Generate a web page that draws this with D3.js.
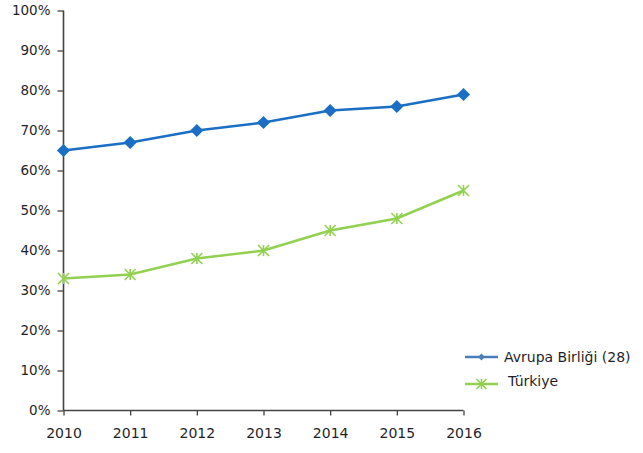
<!DOCTYPE html>
<html><head><meta charset="utf-8">
<script src="https://cdn.jsdelivr.net/npm/d3@7"></script>
<style>body{margin:0;background:#fff}svg{display:block}</style>
</head><body>
<svg id="c" width="643" height="453"></svg>
<script>
const years = ["2010","2011","2012","2013","2014","2015","2016"];
const euValues = [65, 67, 70, 72, 75, 76, 79];
const trValues = [33, 34, 38, 40, 45, 48, 55];
const yTicks = [0,10,20,30,40,50,60,70,80,90,100];
const seriesNames = ["Avrupa Birliği (28)", "Türkiye"];

const svg = d3.select("#c");
const font = "'DejaVu Sans', sans-serif";
const txt = "#1f1f2a";
const x = d3.scalePoint().domain(years).range([63.5, 463.5]);
const y = d3.scaleLinear().domain([0,100]).range([410.5, 10.5]);

// Y axis
const ya = svg.append("g").attr("transform","translate(63.5,0)")
  .call(d3.axisLeft(y).tickValues(yTicks).tickSize(6).tickPadding(7).tickFormat(d=>d+"%"));
ya.select(".domain").attr("stroke","#444").attr("stroke-width",1.6).attr("d","M0,10.5V410.5");
ya.selectAll(".tick line").attr("stroke","#444").attr("stroke-width",1.3);
ya.selectAll("text").attr("font-family",font).attr("font-size",13.5).attr("fill",txt);

// X axis
const xa = svg.append("g").attr("transform","translate(0,410.5)")
  .call(d3.axisBottom(x).tickSize(5).tickPadding(13));
xa.select(".domain").attr("stroke","#444").attr("stroke-width",1.6).attr("d","M63.5,0H463.5");
xa.selectAll(".tick line").attr("stroke","#444").attr("stroke-width",1.3);
xa.selectAll("text").attr("font-family",font).attr("font-size",14).attr("fill",txt).attr("font-weight",500);

const line = d3.line().x((d,i)=>x(years[i])).y(d=>y(d));
const blue = "#1a6ec4", green = "#92d050";

svg.append("path").datum(trValues).attr("d",line).attr("fill","none").attr("stroke",green).attr("stroke-width",2.5);
svg.append("path").datum(euValues).attr("d",line).attr("fill","none").attr("stroke",blue).attr("stroke-width",2.5);

function star(g, cx, cy, s){
  g.append("path").attr("d",`M${cx-s},${cy-s}L${cx+s},${cy+s}M${cx-s},${cy+s}L${cx+s},${cy-s}M${cx},${cy-s}L${cx},${cy+s}`)
    .attr("stroke",green).attr("stroke-width",1.6).attr("fill","none");
}
const sg = svg.append("g");
trValues.forEach((v,i)=>star(sg, x(years[i]), y(v), 5.5));

const diamond = d3.symbol().type(d3.symbolDiamond2).size(110);
svg.append("g").selectAll("path").data(euValues).join("path")
  .attr("transform",(d,i)=>`translate(${x(years[i])},${y(d)})`)
  .attr("d",diamond).attr("fill",blue);

// Legend
const lg = svg.append("g");
lg.append("line").attr("x1",465).attr("x2",498).attr("y1",357).attr("y2",357).attr("stroke","#4a7ebb").attr("stroke-width",2.5);
lg.append("path").attr("transform","translate(481.5,357)").attr("d",d3.symbol().type(d3.symbolDiamond2).size(30)).attr("fill","#4a7ebb");
lg.append("text").attr("x",504).attr("y",357).attr("dy","0.35em").text(seriesNames[0])
  .attr("font-family",font).attr("font-size",14).attr("fill",txt);
lg.append("line").attr("x1",465).attr("x2",498).attr("y1",384).attr("y2",384).attr("stroke",green).attr("stroke-width",2.5);
star(lg, 481.5, 384, 5);
lg.append("text").attr("x",508).attr("y",381).attr("dy","0.35em").text(seriesNames[1])
  .attr("font-family",font).attr("font-size",14).attr("fill",txt);
</script>
</body></html>
